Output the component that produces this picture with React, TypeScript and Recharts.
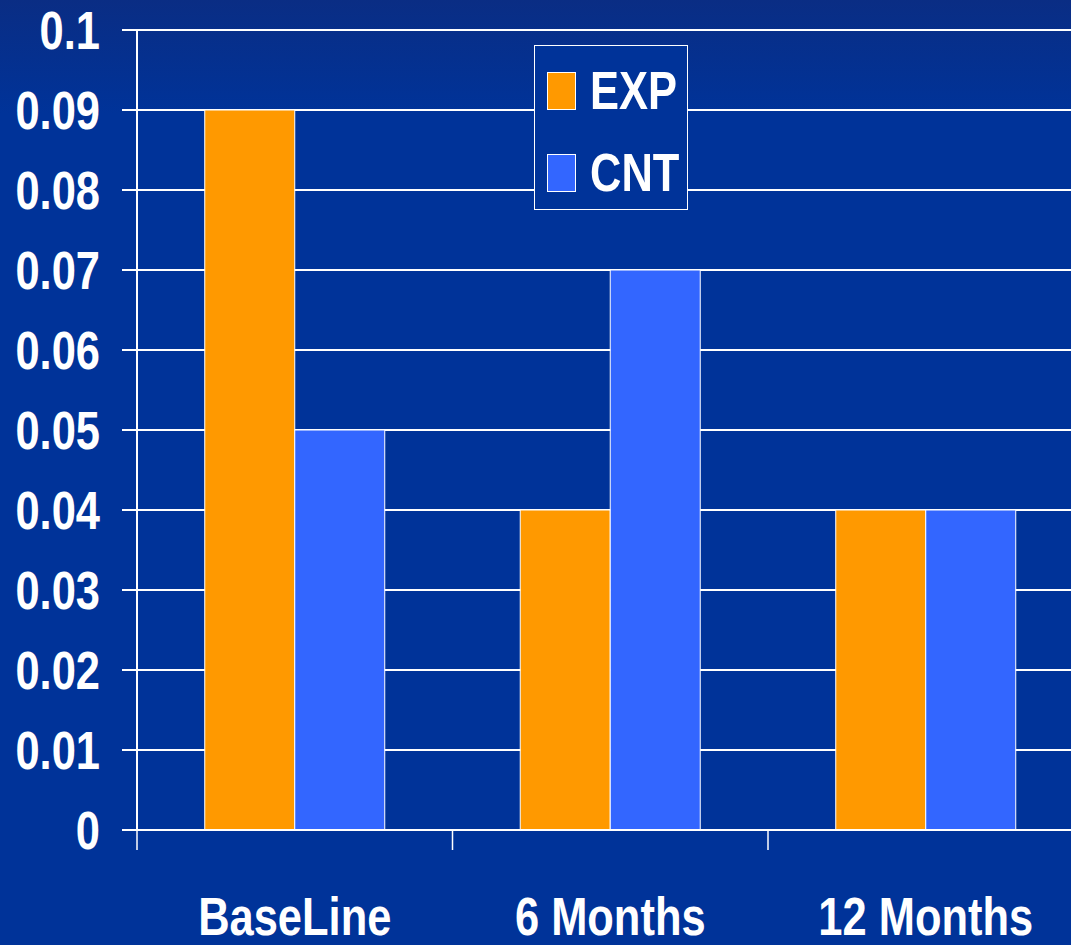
import { Bar, BarChart, CartesianGrid, XAxis, YAxis } from "recharts";

const categories = ["BaseLine", "6 Months", "12 Months"];
const expValues = [0.09, 0.04, 0.04];
const cntValues = [0.05, 0.07, 0.04];
const yTicks = [0, 0.01, 0.02, 0.03, 0.04, 0.05, 0.06, 0.07, 0.08, 0.09, 0.1];
const yTickLabels = ["0", "0.01", "0.02", "0.03", "0.04", "0.05", "0.06", "0.07", "0.08", "0.09", "0.1"];
const legendItems = [
  { label: "EXP", color: "#FF9900" },
  { label: "CNT", color: "#3366FF" },
];

const data = categories.map((name, i) => ({ name, EXP: expValues[i], CNT: cntValues[i] }));

// no narrow font installed, so squeeze Liberation Sans Bold horizontally
const FONT = '"Liberation Sans", Arial, sans-serif';
const SQUEEZE = 0.82;
const FONT_SIZE = 53;
const BG = "#003399";
const CHART_W = 1088.5;
const CHART_H = 945;
const MARGIN = { top: 30, right: 5, bottom: 0, left: 0 };
const Y_AXIS_W = 137;
const BAND = (CHART_W - MARGIN.left - MARGIN.right - Y_AXIS_W) / categories.length;
const X_TICK_LEN = 20;
const X_LABEL_GAP = 47;

function CategoryTick(props: any) {
  const { x, y, payload } = props;
  const edge = x - BAND / 2;
  return (
    <g>
      <line
        x1={edge}
        x2={edge}
        y1={y - X_LABEL_GAP - X_TICK_LEN}
        y2={y - X_LABEL_GAP}
        stroke="#ffffff"
        strokeWidth={1.5}
      />
      <text
        transform={`translate(${x},${y}) scale(${SQUEEZE},1)`}
        dy="0.71em"
        textAnchor="middle"
        fill="#ffffff"
        fontFamily={FONT}
        fontWeight="bold"
        fontSize={FONT_SIZE}
      >
        {payload.value}
      </text>
    </g>
  );
}

function ValueTick(props: any) {
  const { x, y, payload, index } = props;
  return (
    <text
      transform={`translate(${x},${y}) scale(${SQUEEZE},1)`}
      dy="0.355em"
      textAnchor="end"
      fill="#ffffff"
      fontFamily={FONT}
      fontWeight="bold"
      fontSize={FONT_SIZE}
    >
      {yTickLabels[index] ?? String(payload.value)}
    </text>
  );
}

function LegendBox() {
  return (
    <div
      style={{
        position: "absolute",
        left: 534,
        top: 45,
        width: 154,
        height: 165,
        border: "1.5px solid #ffffff",
        background: BG,
        boxSizing: "border-box",
        paddingTop: 26,
        paddingLeft: 12,
      }}
    >
      {legendItems.map((item) => (
        <div
          key={item.label}
          style={{ display: "flex", alignItems: "center", height: 38, marginBottom: 44 }}
        >
          <div
            style={{
              flexShrink: 0,
              width: 29,
              height: 38,
              background: item.color,
              border: "1px solid #ffffff",
              boxSizing: "border-box",
              marginRight: 14,
            }}
          />
          <span
            style={{
              display: "inline-block",
              color: "#ffffff",
              fontFamily: FONT,
              fontWeight: "bold",
              fontSize: FONT_SIZE,
              lineHeight: "38px",
              transform: `scaleX(${SQUEEZE})`,
              transformOrigin: "left center",
              whiteSpace: "nowrap",
            }}
          >
            {item.label}
          </span>
        </div>
      ))}
    </div>
  );
}

export default function App() {
  return (
    <div
      style={{
        position: "absolute",
        top: 0,
        left: 0,
        width: 1071,
        height: 945,
        overflow: "hidden",
        background: "linear-gradient(to bottom, #0a2d84 0%, #003399 12%, #003399 100%)",
      }}
    >
      <BarChart
        width={CHART_W}
        height={CHART_H}
        data={data}
        margin={MARGIN}
        barCategoryGap="21.47%"
        barGap={0}
      >
        <CartesianGrid vertical={false} stroke="#ffffff" strokeWidth={2} />
        <XAxis
          dataKey="name"
          height={115}
          axisLine={{ stroke: "#ffffff", strokeWidth: 2 }}
          tickLine={false}
          tickSize={X_TICK_LEN}
          tickMargin={X_LABEL_GAP}
          tick={<CategoryTick />}
          interval={0}
        />
        <YAxis
          width={Y_AXIS_W}
          domain={[0, 0.1]}
          ticks={yTicks}
          interval={0}
          axisLine={{ stroke: "#ffffff", strokeWidth: 2 }}
          tickLine={{ stroke: "#ffffff", strokeWidth: 2 }}
          tickSize={15}
          tickMargin={22}
          tick={<ValueTick />}
        />
        <Bar dataKey="EXP" fill="#FF9900" stroke="#ffffff" strokeWidth={1} isAnimationActive={false} />
        <Bar dataKey="CNT" fill="#3366FF" stroke="#ffffff" strokeWidth={1} isAnimationActive={false} />
      </BarChart>
      <LegendBox />
    </div>
  );
}
